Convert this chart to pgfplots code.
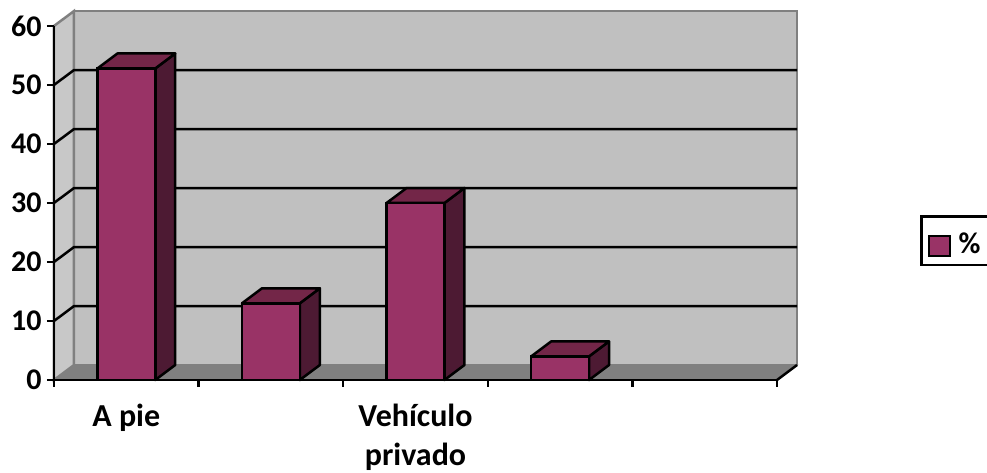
\documentclass[border=0pt]{standalone}
\usepackage{fontspec}
\setmainfont{Carlito}
\usepackage{pgfplots}
\usepackage{pgfplotstable}
\pgfplotsset{compat=1.18}

\definecolor{barfront}{HTML}{993366}
\definecolor{bartop}{HTML}{732648}
\definecolor{barside}{HTML}{4D1A33}
\definecolor{backwall}{HTML}{C0C0C0}
\definecolor{sidewall}{HTML}{C8C8C8}
\definecolor{wallfloor}{HTML}{808080}

\pgfplotstableread{
cat val
0 52.8
1 13
2 30
3 4
}\modos

\pgfplotsset{
    faceside/.style={forget plot, fill=barside, draw=black, line width=2.5pt, line join=round},
    facetop/.style={forget plot, fill=bartop, draw=black, line width=2.5pt, line join=round},
    gridrule/.style={forget plot, black, line width=2.5pt, line join=round},
}

\begin{document}
\begin{tikzpicture}
\useasboundingbox (0,0) rectangle (987pt,473pt);
\begin{axis}[
    at={(54pt,93pt)},
    anchor=south west,
    scale only axis,
    width=723pt,
    height=354pt,
    xmin=-0.5, xmax=4.5,
    ymin=0, ymax=60,
    clip=false,
    axis on top,
    axis lines=left,
    axis line style={-, line width=2.5pt, black},
    tick align=outside,
    major tick length=7pt,
    tick style={line width=2.5pt, black},
    xtick={-0.5,0.5,1.5,2.5,3.5,4.5},
    xticklabels={},
    extra x ticks={0,2},
    extra x tick labels={A pie,{Vehículo\\[1pt]privado}},
    extra x tick style={major tick length=0pt, tick style={draw=none}},
    ytick={0,10,...,60},
    /pgf/number format/assume math mode=true,
    xticklabel style={font=\fontsize{32}{38}\selectfont\bfseries, align=center, yshift=-21pt},
    yticklabel style={font=\fontsize{30}{36}\selectfont\bfseries, xshift=-2pt},
    legend style={
        at={(1.1978,0.322)}, anchor=south west,
        draw=black, line width=2.5pt, inner xsep=7pt, inner ysep=8pt,
        font=\fontsize{30}{34}\selectfont\bfseries
    },
    legend image code/.code={
        \draw[fill=barfront, draw=black, line width=2pt] (1pt,-12pt) rectangle (22pt,8pt);
        \path (27pt,18pt);
    },
]
% walls and floor
\addplot[forget plot, fill=backwall, draw=wallfloor, line width=2.5pt] coordinates {(-0.3617,2.54) (4.6383,2.54) (4.6383,62.54) (-0.3617,62.54)} -- cycle;
\addplot[forget plot, fill=sidewall, draw=wallfloor, line width=2.5pt] coordinates {(-0.5,0) (-0.3617,2.54) (-0.3617,62.54) (-0.5,60)} -- cycle;
\addplot[forget plot, fill=wallfloor, draw=wallfloor, line width=1pt] coordinates {(-0.5,0) (4.5,0) (4.6383,2.54) (-0.3617,2.54)} -- cycle;
\addplot[gridrule] coordinates {(4.5,0) (4.6383,2.54)};
% gridlines
\addplot[gridrule] coordinates {(-0.5,10) (-0.3617,12.54) (4.6383,12.54)};
\addplot[gridrule] coordinates {(-0.5,20) (-0.3617,22.54) (4.6383,22.54)};
\addplot[gridrule] coordinates {(-0.5,30) (-0.3617,32.54) (4.6383,32.54)};
\addplot[gridrule] coordinates {(-0.5,40) (-0.3617,42.54) (4.6383,42.54)};
\addplot[gridrule] coordinates {(-0.5,50) (-0.3617,52.54) (4.6383,52.54)};
% bar sides and tops
\addplot[faceside] coordinates {(0.2,0) (0.3383,2.54) (0.3383,55.34) (0.2,52.8)} -- cycle;
\addplot[facetop] coordinates {(-0.2,52.8) (0.2,52.8) (0.3383,55.34) (-0.0617,55.34)} -- cycle;
\addplot[faceside] coordinates {(1.2,0) (1.3383,2.54) (1.3383,15.54) (1.2,13)} -- cycle;
\addplot[facetop] coordinates {(0.8,13) (1.2,13) (1.3383,15.54) (0.9383,15.54)} -- cycle;
\addplot[faceside] coordinates {(2.2,0) (2.3383,2.54) (2.3383,32.54) (2.2,30)} -- cycle;
\addplot[facetop] coordinates {(1.8,30) (2.2,30) (2.3383,32.54) (1.9383,32.54)} -- cycle;
\addplot[faceside] coordinates {(3.2,0) (3.3383,2.54) (3.3383,6.54) (3.2,4)} -- cycle;
\addplot[facetop] coordinates {(2.8,4) (3.2,4) (3.3383,6.54) (2.9383,6.54)} -- cycle;
% bar fronts
\addplot[ybar, bar width=58pt, fill=barfront, draw=black, line width=2.5pt] table[x=cat, y=val] {\modos};
\addlegendentry{\%}
\end{axis}
\end{tikzpicture}
\end{document}
